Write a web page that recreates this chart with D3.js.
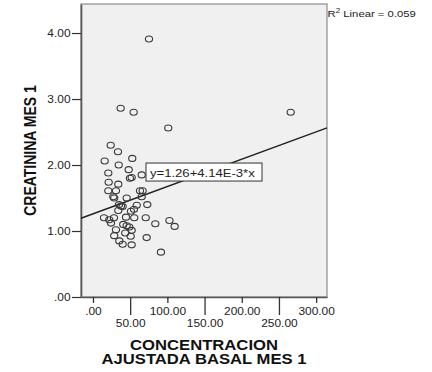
<!DOCTYPE html>
<html>
<head>
<meta charset="utf-8">
<script src="https://cdn.jsdelivr.net/npm/d3@7"></script>
<style>
  html, body { margin: 0; padding: 0; background: #fff; }
  svg { display: block; font-family: "Liberation Sans", Arial, sans-serif; }
</style>
</head>
<body>
<div id="chart"></div>
<script>
// concentracion ajustada basal (x) vs creatinina (y)
const concentracion = [
  75.3, 37.2, 54.7, 101.2, 265.8, 23.8, 33.6, 52.8, 15.7, 34.6,
  48.0, 20.6, 49.7, 52.0, 65.5, 21.1, 34.0, 20.6, 30.9, 63.2,
  66.8, 28.6, 45.3, 65.5, 35.0, 39.9, 58.8, 73.0, 34.0, 51.1,
  55.1, 44.4, 14.8, 21.9, 28.2, 55.5, 70.9, 24.2, 40.7, 45.3,
  83.8, 102.8, 109.8, 30.9, 52.0, 48.8, 28.6, 43.4, 50.7, 72.2,
  35.4, 39.9, 52.0, 91.4, 37.6, 27.3
];
const creatinina = [
  3.91, 2.86, 2.80, 2.56, 2.80, 2.30, 2.20, 2.10, 2.06, 2.00,
  1.93, 1.88, 1.80, 1.81, 1.85, 1.74, 1.71, 1.61, 1.61, 1.61,
  1.61, 1.50, 1.50, 1.52, 1.40, 1.37, 1.39, 1.40, 1.31, 1.30,
  1.33, 1.21, 1.20, 1.17, 1.20, 1.20, 1.20, 1.12, 1.10, 1.08,
  1.11, 1.16, 1.07, 1.02, 1.01, 1.06, 0.93, 0.97, 0.92, 0.90,
  0.85, 0.80, 0.79, 0.68, 1.38, 1.52
];
const xTicks = [0, 50, 100, 150, 200, 250, 300];
const yTicks = [0, 1, 2, 3, 4];
const fitIntercept = 1.26;
const fitSlope = 4.14e-3;
const fitLabel = 'y=1.26+4.14E-3*x';
const r2Label = '0.059';
const xTitle = ['CONCENTRACION', 'AJUSTADA BASAL MES 1'];
const yTitle = 'CREATININA MES 1';

const W = 432, H = 372;
const box = { left: 81, right: 327, top: 4, bottom: 297 };
const sx = 1.19; // the picture is stretched a bit horizontally

const fmt = d => { const s = d3.format('.2f')(d); return s.startsWith('0.') ? s.slice(1) : s; };

const svg = d3.select('#chart').append('svg').attr('width', W).attr('height', H);

const x = d3.scaleLinear().domain([-16.1, 314.6]).range([box.left, box.right]);
const y = d3.scaleLinear().domain([0, 4.44]).range([box.bottom, box.top]);

// plot area
svg.append('rect')
  .attr('x', box.left).attr('y', box.top)
  .attr('width', box.right - box.left).attr('height', box.bottom - box.top)
  .attr('fill', '#f0f0f0').attr('stroke', '#8c8c8c').attr('stroke-width', 1.2);

// y axis
const ya = svg.append('g')
  .attr('transform', `translate(${box.left},0)`)
  .call(d3.axisLeft(y).tickValues(yTicks).tickFormat(fmt).tickSize(9).tickSizeOuter(0));
ya.select('.domain').attr('stroke', '#555').attr('stroke-width', 1.6);
ya.selectAll('.tick line').attr('stroke', '#333').attr('stroke-width', 1.2);
ya.selectAll('.tick text')
  .attr('x', -8.8).attr('dy', '0.35em')
  .attr('transform', `scale(${sx},1)`)
  .attr('font-size', 10).attr('fill', '#222')
  .style('font-family', '"Liberation Sans", Arial, sans-serif');

// x axis, labels on two alternating rows
const xa = svg.append('g')
  .attr('transform', `translate(0,${box.bottom})`)
  .call(d3.axisBottom(x).tickValues(xTicks).tickFormat(fmt).tickSizeOuter(0));
xa.select('.domain').attr('stroke', '#555').attr('stroke-width', 1.6);
xa.selectAll('.tick line')
  .attr('y2', (d, i) => i % 2 ? 18 : 6)
  .attr('stroke', '#333').attr('stroke-width', 1.3);
xa.selectAll('.tick text')
  .attr('y', (d, i) => i % 2 ? 30 : 18).attr('dy', 0)
  .attr('transform', `scale(${sx},1)`)
  .attr('font-size', 10).attr('fill', '#222')
  .style('font-family', '"Liberation Sans", Arial, sans-serif');

// fit line
const x0 = x.domain()[0], x1 = x.domain()[1];
svg.append('line')
  .attr('x1', x(x0)).attr('y1', y(fitIntercept + fitSlope * x0))
  .attr('x2', x(x1)).attr('y2', y(fitIntercept + fitSlope * x1))
  .attr('stroke', '#222').attr('stroke-width', 1.4);

// points
const pts = concentracion.map((c, i) => ({ c, v: creatinina[i] }));
svg.append('g').selectAll('ellipse')
  .data(pts)
  .enter()
  .append('ellipse')
  .attr('cx', d => x(d.c))
  .attr('cy', d => y(d.v))
  .attr('rx', 3.6).attr('ry', 3.0)
  .attr('fill', 'none')
  .attr('stroke', '#3a3a3a')
  .attr('stroke-width', 1.1);

// fit equation label
const lx = x(71.3), ly = y(2.03);
svg.append('rect')
  .attr('x', lx).attr('y', ly)
  .attr('width', 116).attr('height', 18)
  .attr('fill', '#fff').attr('stroke', '#333').attr('stroke-width', 1);
svg.append('text')
  .attr('transform', `translate(${lx + 4},${ly + 13.5}) scale(${sx},1)`)
  .attr('font-size', 11).attr('fill', '#222')
  .text(fitLabel);

// R squared
const r2 = svg.append('text')
  .attr('transform', `translate(${box.right + 0.5},17) scale(${sx},1)`)
  .attr('font-size', 9.5).attr('fill', '#222');
r2.append('tspan').text('R');
r2.append('tspan').attr('font-size', 6.8).attr('dy', -4).text('2');
r2.append('tspan').attr('dy', 4).text(' Linear = ' + r2Label);

// axis titles
svg.selectAll('text.xt')
  .data(xTitle)
  .enter()
  .append('text')
  .attr('class', 'xt')
  .attr('transform', (d, i) => `translate(${(box.left + box.right) / 2},${i ? 364 : 350}) scale(${sx},1)`)
  .attr('text-anchor', 'middle')
  .attr('font-size', 14).attr('font-weight', 'bold').attr('fill', '#111')
  .text(d => d);

svg.append('text')
  .attr('transform', `translate(36,${(box.top + box.bottom) / 2}) scale(${sx},1) rotate(-90)`)
  .attr('text-anchor', 'middle')
  .attr('font-size', 14).attr('font-weight', 'bold').attr('fill', '#111')
  .text(yTitle);
</script>
</body>
</html>
